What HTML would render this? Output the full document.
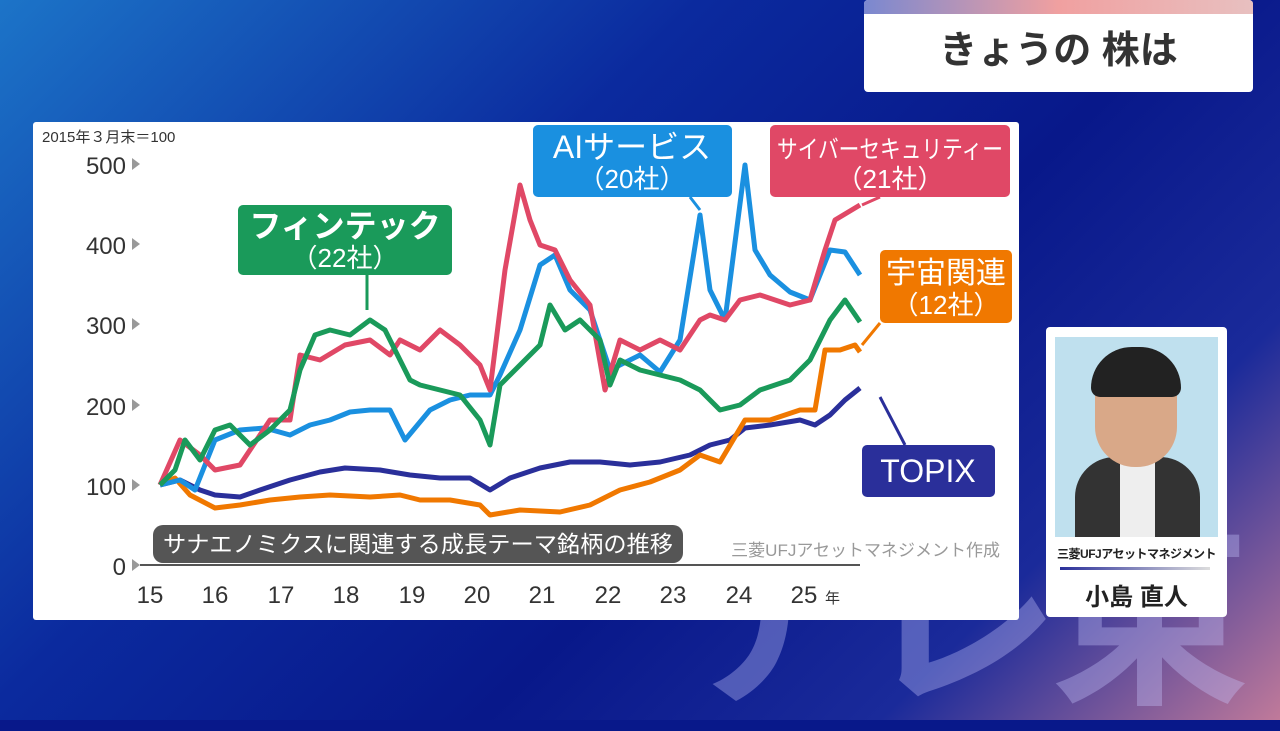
<!DOCTYPE html>
<html><head><meta charset="utf-8"><style>
html,body{margin:0;width:1280px;height:720px;overflow:hidden;background:#08188a;font-family:"Liberation Sans","Noto Sans CJK JP",sans-serif;}
.bg{position:absolute;left:0;top:0;width:1280px;height:720px;background:linear-gradient(135deg,#1c74c8 0%,#0b2a9e 35%,#08188a 60%,#1a2a9a 80%,#c07a9a 100%);}
.abs{position:absolute}
</style></head><body>
<div class="bg"></div>
<div class="abs" style="left:670px;top:520px;font-size:200px;font-weight:bold;color:rgba(200,200,255,0.35);letter-spacing:-10px;line-height:200px;white-space:nowrap">テレ東</div>
<div class="abs" style="left:864px;top:0;width:389px;height:92px;background:#fff;border-radius:4px;overflow:hidden">
 <div style="height:14px;background:linear-gradient(90deg,#7a88d0,#f0a0a0,#e8c0c0)"></div>
 <div style="text-align:center;font-size:38px;font-weight:bold;color:#333;line-height:74px">きょうの 株は</div>
</div>
<div class="abs" style="left:33px;top:122px;width:986px;height:498px;background:#fff;border-radius:3px"></div>
<svg class="abs" style="left:0;top:0" width="1280" height="720" font-family="Liberation Sans, Noto Sans CJK JP, sans-serif">
<text x="42" y="142" font-size="15" fill="#333">2015年３月末＝100</text>
<g font-size="24" fill="#333" text-anchor="end">
<text x="126" y="174">500</text><text x="126" y="254">400</text><text x="126" y="334">300</text><text x="126" y="415">200</text><text x="126" y="495">100</text><text x="126" y="575">0</text></g>
<g fill="#999"><polygon points="132,158 140,164 132,170"/><polygon points="132,238 140,244 132,250"/><polygon points="132,318 140,324 132,330"/><polygon points="132,399 140,405 132,411"/><polygon points="132,479 140,485 132,491"/><polygon points="132,559 140,565 132,571"/></g>
<line x1="140" y1="565" x2="860" y2="565" stroke="#555" stroke-width="2"/>
<g font-size="24" fill="#333" text-anchor="middle">
<text x="150" y="603">15</text><text x="215" y="603">16</text><text x="281" y="603">17</text><text x="346" y="603">18</text><text x="412" y="603">19</text><text x="477" y="603">20</text><text x="542" y="603">21</text><text x="608" y="603">22</text><text x="673" y="603">23</text><text x="739" y="603">24</text><text x="804" y="603">25</text></g>
<text x="825" y="603" font-size="15" fill="#333">年</text>
<g fill="none" stroke-width="5" stroke-linejoin="round">
<polyline stroke="#2a2f9a" points="160,485 180,480 200,490 215,495 240,497 260,490 290,480 320,472 345,468 380,470 410,475 440,478 470,478 490,490 510,478 540,468 570,462 600,462 630,465 660,462 690,455 710,445 730,440 745,428 770,425 800,420 815,425 830,415 845,400 860,388"/>
<polyline stroke="#f07800" points="160,485 175,478 190,495 215,508 240,505 270,500 300,497 330,495 370,497 400,495 420,500 450,500 480,505 490,515 520,510 560,512 590,505 620,490 650,482 680,470 700,455 720,462 745,420 770,420 800,410 815,410 825,350 840,350 855,345 860,352"/>
<polyline stroke="#1a90e0" points="160,485 180,480 195,490 215,440 240,430 265,428 290,435 310,425 330,420 350,412 370,410 390,410 405,440 430,410 450,400 470,395 490,395 500,375 520,330 540,265 555,255 570,290 590,310 610,370 640,355 660,372 680,340 700,215 710,290 725,320 745,165 755,250 770,275 790,292 810,300 830,250 845,252 860,275"/>
<polyline stroke="#e04866" points="160,485 180,440 200,455 215,470 240,465 270,420 290,420 300,355 320,360 345,345 370,340 390,355 400,340 420,350 440,330 460,345 480,365 490,390 505,270 520,185 530,220 540,245 555,250 570,280 590,305 605,390 620,340 640,350 660,340 680,350 700,320 710,315 725,320 740,300 760,295 790,305 810,300 825,250 835,220 860,205"/>
<polyline stroke="#1a9a5a" points="160,485 175,470 185,440 200,460 215,430 230,425 250,445 270,430 290,410 300,370 315,335 330,330 350,335 370,320 385,330 400,360 410,380 420,385 440,390 460,395 480,420 490,445 500,385 520,365 540,345 550,305 565,330 580,320 600,340 610,385 620,360 640,370 660,375 680,380 700,390 720,410 740,405 760,390 790,380 810,360 830,320 845,300 860,322"/>
</g>
<g stroke-width="3">
<line x1="367" y1="275" x2="367" y2="310" stroke="#1a9a5a"/>
<line x1="690" y1="197" x2="700" y2="210" stroke="#1a90e0"/>
<line x1="880" y1="197" x2="862" y2="205" stroke="#e04866"/>
<line x1="880" y1="323" x2="862" y2="345" stroke="#f07800"/>
<line x1="880" y1="397" x2="905" y2="445" stroke="#2a2f9a"/>
</g>
<rect x="238" y="205" width="214" height="70" rx="5" fill="#1a9a5a"/>
<text x="345" y="237" font-size="32" font-weight="bold" fill="#fff" text-anchor="middle">フィンテック</text>
<text x="345" y="267" font-size="26" fill="#fff" text-anchor="middle">（22社）</text>
<rect x="533" y="125" width="199" height="72" rx="5" fill="#1a90e0"/>
<text x="632" y="158" font-size="32" fill="#fff" text-anchor="middle">AIサービス</text>
<text x="632" y="188" font-size="26" fill="#fff" text-anchor="middle">（20社）</text>
<rect x="770" y="125" width="240" height="72" rx="5" fill="#e04866"/>
<text x="890" y="158" font-size="25" fill="#fff" text-anchor="middle" textLength="226" lengthAdjust="spacingAndGlyphs">サイバーセキュリティー</text>
<text x="890" y="188" font-size="26" fill="#fff" text-anchor="middle">（21社）</text>
<rect x="880" y="250" width="132" height="73" rx="5" fill="#f07800"/>
<text x="946" y="283" font-size="30" fill="#fff" text-anchor="middle">宇宙関連</text>
<text x="946" y="314" font-size="26" fill="#fff" text-anchor="middle">（12社）</text>
<rect x="862" y="445" width="133" height="52" rx="5" fill="#2a2f9a"/>
<text x="928" y="482" font-size="32" fill="#fff" text-anchor="middle">TOPIX</text>
<rect x="153" y="525" width="530" height="38" rx="10" fill="#555"/>
<text x="418" y="552" font-size="23" fill="#fff" text-anchor="middle" textLength="510" lengthAdjust="spacingAndGlyphs">サナエノミクスに関連する成長テーマ銘柄の推移</text>
<text x="1000" y="556" font-size="17" fill="#999" text-anchor="end">三菱UFJアセットマネジメント作成</text>
</svg>
<div class="abs" style="left:1046px;top:327px;width:181px;height:290px;background:#fff;border-radius:4px">
 <div class="abs" style="left:9px;top:10px;width:163px;height:200px;background:#bfe0ee;overflow:hidden">
  <div class="abs" style="left:20px;top:120px;width:125px;height:90px;background:#333;border-radius:40px 40px 0 0"></div>
  <div class="abs" style="left:65px;top:125px;width:35px;height:75px;background:#eee"></div>
  <div class="abs" style="left:40px;top:20px;width:82px;height:110px;background:#d9a888;border-radius:40px"></div>
  <div class="abs" style="left:36px;top:10px;width:90px;height:50px;background:#222;border-radius:45px 45px 10px 10px"></div>
 </div>
 <div class="abs" style="left:0;top:218px;width:181px;text-align:center;font-size:12px;font-weight:bold;color:#222;white-space:nowrap;letter-spacing:-0.5px">三菱UFJアセットマネジメント</div>
 <div class="abs" style="left:14px;top:240px;width:150px;height:3px;background:linear-gradient(90deg,#2a2f9a,#ddd)"></div>
 <div class="abs" style="left:0;top:250px;width:181px;text-align:center;font-size:24px;font-weight:bold;color:#222">小島 直人</div>
</div>
</body></html>
